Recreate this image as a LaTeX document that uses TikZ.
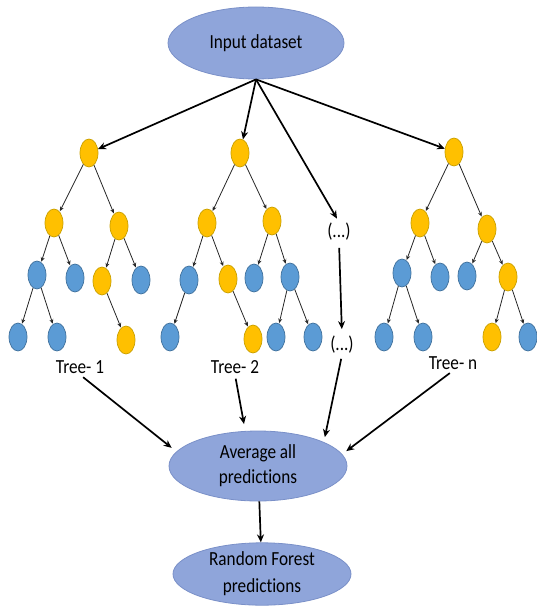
\documentclass[tikz,border=0pt]{standalone}
\usepackage{fontspec}
\setmainfont{Carlito}[FakeStretch=0.86,Ligatures=NoCommon]
\usetikzlibrary{arrows.meta,shapes.geometric}
\definecolor{bigfill}{HTML}{8FA5DA}
\definecolor{bigdraw}{HTML}{7A90C8}
\definecolor{yfill}{HTML}{FFC000}
\definecolor{ydraw}{HTML}{C9A000}
\definecolor{bfill}{HTML}{5B9BD5}
\definecolor{bdraw}{HTML}{41719C}
\tikzset{
  bigell/.style={ellipse, fill=bigfill, draw=bigdraw, line width=0.8pt, inner sep=0pt,
     align=center, font=\fontsize{20}{25}\selectfont},
  ynode/.style={ellipse, fill=yfill, draw=ydraw, line width=0.7pt, minimum width=18pt, minimum height=28pt, inner sep=0pt},
  bnode/.style={ellipse, fill=bfill, draw=bdraw, line width=0.7pt, minimum width=18pt, minimum height=28pt, inner sep=0pt},
  lbl/.style={font=\fontsize{20}{24}\selectfont, inner sep=1pt},
  mainarrow/.style={line width=1.7pt, -{Stealth[length=8pt,width=7pt]}},
  treeedge/.style={draw=black!85, line width=0.8pt, -{Stealth[length=4.5pt,width=4pt]}, shorten >=0.5pt},
}
\begin{document}
\begin{tikzpicture}[x=1pt,y=-1pt]
\useasboundingbox (0,0) rectangle (536,610);

% big ellipses
\node[bigell, minimum width=176pt, minimum height=72pt] (in) at (256,43) {Input dataset};
\node[bigell, minimum width=178pt, minimum height=70pt] (avg) at (258,466) {Average all\\predictions};
\node[bigell, minimum width=178pt, minimum height=62pt, font=\fontsize{20}{27}\selectfont] (rf) at (262,574) {Random Forest\\predictions};

% Tree 1
\node[ynode] (r1) at (89,153) {};
\node[ynode] (a1) at (54,223) {};
\node[ynode] (b1) at (119,226) {};
\node[bnode] (c1) at (37,275) {};
\node[bnode] (d1) at (75,278) {};
\node[ynode] (e1) at (102,281) {};
\node[bnode] (f1) at (141,280) {};
\node[bnode] (g1) at (18,337) {};
\node[bnode] (h1) at (57,337) {};
\node[ynode] (i1) at (126,340) {};
\foreach \p/\c in {r1/a1,r1/b1,a1/c1,a1/d1,b1/e1,b1/f1,c1/g1,c1/h1,e1/i1}
  \draw[treeedge] (\p) -- (\c);

% Tree 2
\node[ynode] (r2) at (240,153) {};
\node[ynode] (a2) at (207,223) {};
\node[ynode] (b2) at (272,221) {};
\node[bnode] (c2) at (189,280) {};
\node[ynode] (d2) at (228,279) {};
\node[bnode] (e2) at (254,278) {};
\node[bnode] (f2) at (290,277) {};
\node[bnode] (g2) at (170,337) {};
\node[ynode] (h2) at (253,339) {};
\node[bnode] (i2) at (276,337) {};
\node[bnode] (j2) at (313,337) {};
\foreach \p/\c in {r2/a2,r2/b2,a2/c2,a2/d2,b2/e2,b2/f2,c2/g2,d2/h2,f2/i2,f2/j2}
  \draw[treeedge] (\p) -- (\c);

% Tree n
\node[ynode] (rn) at (454,152) {};
\node[ynode] (an) at (420,223) {};
\node[ynode] (bn) at (487,229) {};
\node[bnode] (cn) at (402,273) {};
\node[bnode] (dn) at (440,277) {};
\node[bnode] (en) at (467,276) {};
\node[ynode] (fn) at (508,277) {};
\node[bnode] (gn) at (384,337) {};
\node[bnode] (hn) at (423,337) {};
\node[ynode] (inn) at (492,337) {};
\node[bnode] (jn) at (528,337) {};
\foreach \p/\c in {rn/an,rn/bn,an/cn,an/dn,bn/en,bn/fn,cn/gn,cn/hn,fn/inn,fn/jn}
  \draw[treeedge] (\p) -- (\c);

% dots
\node[lbl] (dt) at (339,232) {(...)};
\node[lbl] (db) at (342,345) {(...)};

% labels
\node[lbl] (t1) at (80,367) {Tree- 1};
\node[lbl] (t2) at (235,367) {Tree- 2};
\node[lbl] (tn) at (453,363) {Tree- n};

% main arrows
\draw[mainarrow] (in.south) -- (r1);
\draw[mainarrow] (in.south) -- (r2);
\draw[mainarrow] (in.south) -- (rn);
\draw[mainarrow, shorten >=4pt] (in.south) -- (dt.north);
\draw[mainarrow, shorten <=6pt, shorten >=6pt] (dt.south) -- (db.north);

\draw[mainarrow, shorten <=4pt, shorten >=6pt] (t1.south) -- (avg.170);
\draw[mainarrow, shorten <=4pt, shorten >=7pt] (t2.south) -- (avg.110);
\draw[mainarrow, shorten <=4pt, shorten >=5pt] (db.south) -- (avg.20);
\draw[mainarrow, shorten <=4pt, shorten >=5pt] (tn.south) -- (avg.8);
\draw[mainarrow] (avg) -- (rf);
\end{tikzpicture}
\end{document}
